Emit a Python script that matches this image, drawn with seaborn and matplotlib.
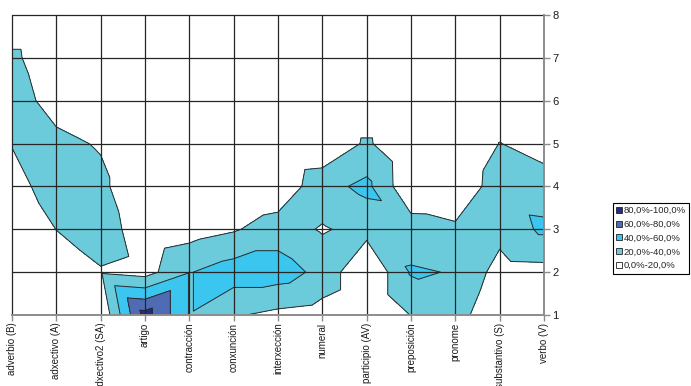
import numpy as np
import matplotlib
matplotlib.use("Agg")
import matplotlib.pyplot as plt
import matplotlib.tri as mtri
from matplotlib.patches import Patch
import seaborn as sns

# Word classes along the horizontal axis
categories = ["adverbio (B)", "adxectivo (A)", "adxectivo2 (SA)", "artigo",
              "contracción", "conxunción", "interxección", "numeral",
              "participio (AV)", "preposición", "pronome", "substantivo (S)",
              "verbo (V)"]

# Series 1..8 (vertical axis), one share per word class
series_names = [1, 2, 3, 4, 5, 6, 7, 8]
s1 = [0.00, 0.00, 0.02, 0.88, 0.39, 0.22, 0.15, 0.11, 0.00, 0.205, 0.30, 0.00, 0.00]
s2 = [0.00, 0.05, 0.178, 0.12, 0.39, 0.50, 0.50, 0.34, 0.00, 0.42, 0.39, 0.12, 0.13]
s3 = [0.00, 0.203, 0.338, 0.05, 0.11, 0.18, 0.30, 0.18, 0.27, 0.30, 0.24, 0.27, 0.44]
s4 = [0.10, 0.33, 0.252, 0.00, 0.00, 0.00, 0.05, 0.33, 0.45, 0.03, 0.02, 0.32, 0.30]
s5 = [0.211, 0.254, 0.181, 0.00, 0.00, 0.00, 0.00, 0.03, 0.23, 0.02, 0.00, 0.205, 0.11]
s6 = [0.30, 0.115, 0.00, 0.00, 0.00, 0.00, 0.00, 0.00, 0.00, 0.00, 0.00, 0.05, 0.00]
s7 = [0.25, 0.03, 0.00, 0.00, 0.00, 0.00, 0.00, 0.00, 0.00, 0.00, 0.00, 0.00, 0.00]
s8 = [0.00, 0.00, 0.00, 0.00, 0.00, 0.00, 0.00, 0.00, 0.00, 0.00, 0.00, 0.00, 0.00]

# Contour bands
band_labels = ["0,0%-20,0%", "20,0%-40,0%", "40,0%-60,0%", "60,0%-80,0%", "80,0%-100,0%"]
band_edges = [0.0, 0.2, 0.4, 0.6, 0.8, 1.0]
band_colors = ["#FFFFFF", "#6CCBDA", "#3BC6F0", "#4E6BB4", "#222C85"]

sns.set_style("white")
plt.rcParams["font.family"] = ["Liberation Sans", "DejaVu Sans"]

Z = np.array([s1, s2, s3, s4, s5, s6, s7, s8], dtype=float)
ny, nx = Z.shape
gx, gy = np.meshgrid(np.arange(nx), np.array(series_names))
x, y, z = gx.ravel().astype(float), gy.ravel().astype(float), Z.ravel()

# Split each grid cell into two triangles along the diagonal with the larger sum
tris = []
for r in range(ny - 1):
    for c in range(nx - 1):
        a, b = r * nx + c, r * nx + c + 1
        cc, d = (r + 1) * nx + c, (r + 1) * nx + c + 1
        if z[a] + z[d] >= z[b] + z[cc]:
            tris += [[a, b, d], [a, d, cc]]
        else:
            tris += [[a, b, cc], [b, d, cc]]
tri = mtri.Triangulation(x, y, np.array(tris))

fig = plt.figure(figsize=(6.91, 3.86), dpi=100)
ax = fig.add_axes([12 / 691, 71 / 386, 532 / 691, 300 / 386])

ax.tricontourf(tri, z, levels=band_edges, colors=band_colors, zorder=1)
ax.tricontour(tri, z, levels=band_edges[1:-1], colors="#2a2a2a",
              linewidths=0.7, zorder=2)

ax.set_xlim(0, nx - 1)
ax.set_ylim(1, 8)

grid_col = "#262626"
for i in range(nx - 1):
    ax.axvline(i, color=grid_col, lw=0.9, zorder=3, clip_on=False)
for v in range(2, 9):
    ax.axhline(v, color=grid_col, lw=0.9, zorder=3, clip_on=False)

for side in ["top", "left"]:
    ax.spines[side].set_visible(False)
for side in ["bottom", "right"]:
    ax.spines[side].set_visible(True)
    ax.spines[side].set_color("#8c8c8c")
    ax.spines[side].set_linewidth(1.4)
    ax.spines[side].set_zorder(4)

ax.set_xticks(range(nx))
ax.set_xticklabels(categories, rotation=90, fontsize=7, color="#1a1a1a")
ax.yaxis.tick_right()
ax.set_yticks(series_names)
ax.set_yticklabels([str(v) for v in series_names], fontsize=8, color="#1a1a1a")
ax.tick_params(axis="x", length=4, width=1, color="#8c8c8c", pad=1.5, bottom=True)
ax.tick_params(axis="y", length=4, width=1, color="#8c8c8c", pad=2, right=True, left=False)

handles = [Patch(facecolor=c, edgecolor="#222222", linewidth=0.6) for c in band_colors[::-1]]
leg = fig.legend(handles, band_labels[::-1], loc="upper left",
                 bbox_to_anchor=(613 / 691, 1 - 203 / 386), frameon=True,
                 fancybox=False, edgecolor="black", framealpha=1, fontsize=6.8,
                 handlelength=0.6, handleheight=0.6, handletextpad=0.2,
                 labelspacing=0.5, borderpad=0.35, borderaxespad=0)
leg.get_frame().set_linewidth(0.8)

fig.savefig("out.png", dpi=100)
